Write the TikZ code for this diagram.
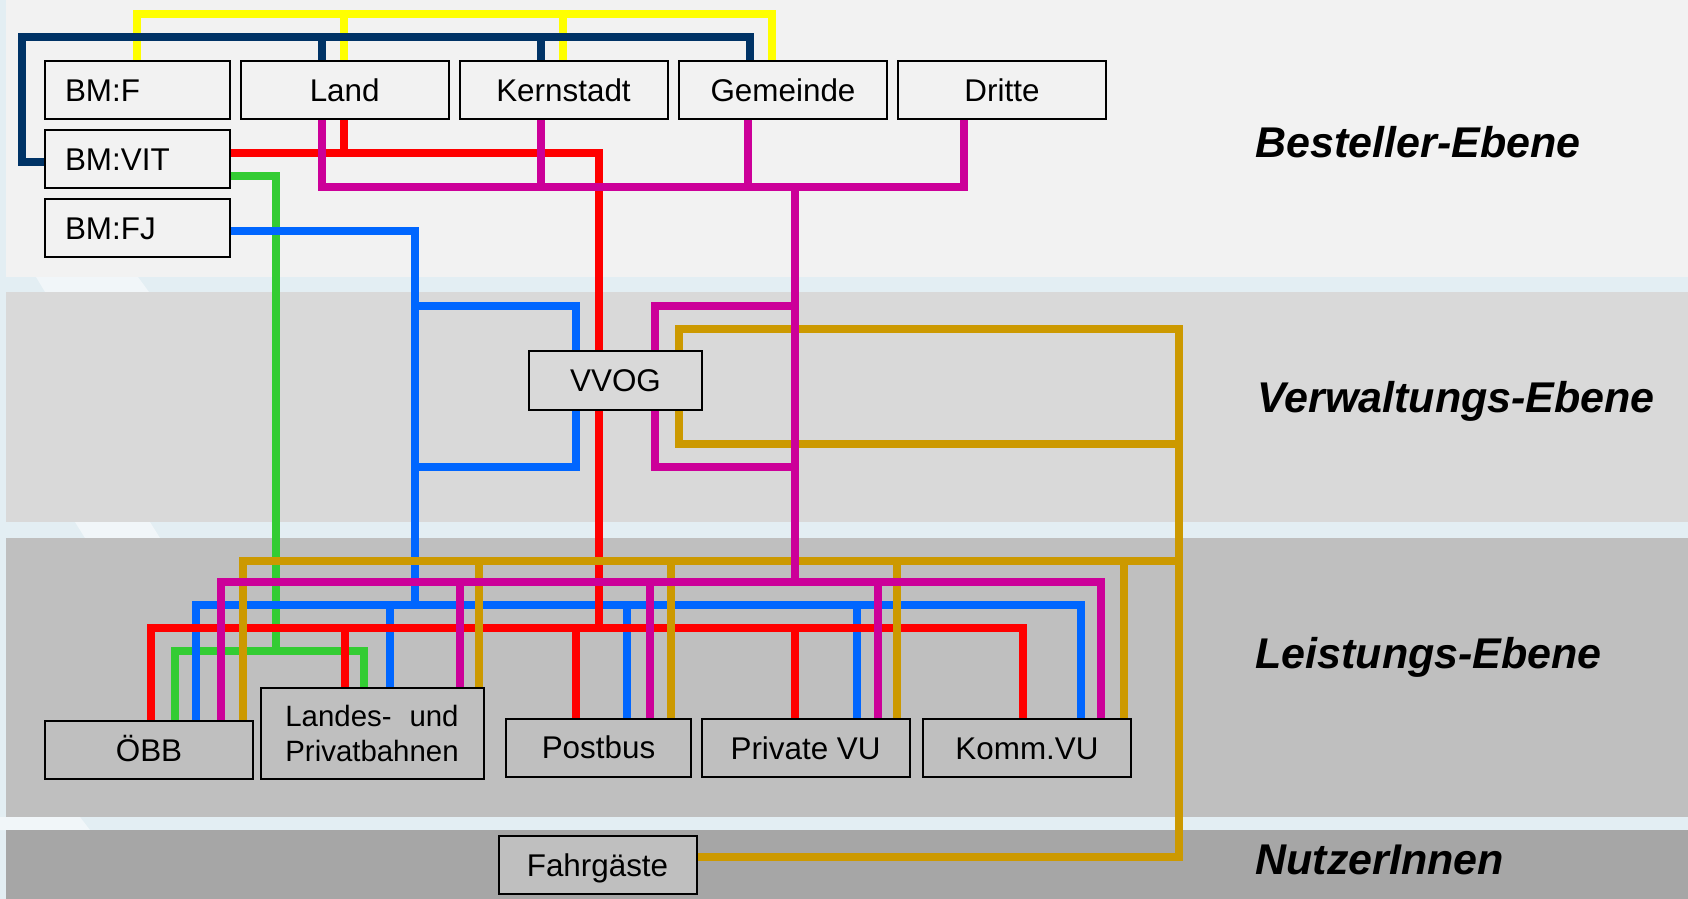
\documentclass[tikz,border=0pt]{standalone}
\usepackage{fontspec}
\setmainfont{Liberation Sans}
\usepackage{calc}
\pgfdeclarelayer{bg}
\pgfdeclarelayer{lines}
\pgfsetlayers{bg,lines,main}
\definecolor{cyel}{HTML}{FFFF00}
\definecolor{cnavy}{HTML}{003366}
\definecolor{cred}{HTML}{FF0000}
\definecolor{cmag}{HTML}{CC0099}
\definecolor{cgrn}{HTML}{33CC33}
\definecolor{cblu}{HTML}{0066FF}
\definecolor{cgold}{HTML}{CC9900}
\definecolor{bandA}{HTML}{F2F2F2}
\definecolor{bandB}{HTML}{D9D9D9}
\definecolor{bandC}{HTML}{BFBFBF}
\definecolor{bandD}{HTML}{A6A6A6}
\definecolor{strip}{HTML}{E3EEF3}
\definecolor{stripl}{HTML}{F1F6F9}
\tikzset{
  wire/.style={line width=4pt, line join=miter},
  boxbase/.style={draw=black, line width=1pt, rectangle, inner sep=0pt,
    font=\fontsize{15.7}{18}\selectfont},
  box/.style={boxbase, text height=11.2pt, text depth=0pt},
  lbox/.style={box, fill=bandA, minimum width=92.5pt, minimum height=29pt,
    text width=72.5pt, align=left},
  tbox/.style={box, fill=bandA, minimum width=104pt, minimum height=29pt},
  bbox/.style={box, fill=bandC, minimum width=104pt, minimum height=29pt},
  lab/.style={anchor=west, inner sep=0pt, text height=15.4pt, text depth=0pt,
    font=\fontsize{21.5}{25}\selectfont\bfseries\itshape}
}
\begin{document}
\begin{tikzpicture}[x=0.5pt,y=-0.5pt]
\useasboundingbox (0,0) rectangle (1688,899);
\begin{pgfonlayer}{bg}
  \fill[strip] (0,0) rectangle (1688,899);
  \fill[stripl] (36,277) -- (138,277) -- (149,292) -- (45,292) -- cycle;
  \fill[stripl] (75,522) -- (150,522) -- (160,538) -- (85,538) -- cycle;
  \fill[stripl] (0,817) -- (80,817) -- (90,830) -- (0,830) -- cycle;
  \fill[bandA] (6,0) rectangle (1688,277);
  \fill[bandB] (6,292) rectangle (1688,522);
  \fill[bandC] (6,538) rectangle (1688,817);
  \fill[bandD] (6,830) rectangle (1688,899);
\end{pgfonlayer}

% Besteller-Ebene
\node[lbox] (bmf) at (137.5,90) {BM:F};
\node[lbox] (bmvit) at (137.5,159) {BM:VIT};
\node[lbox] (bmfj) at (137.5,228) {BM:FJ};
\node[tbox] (land) at (344.7,90) {Land};
\node[tbox] (kern) at (563.5,90) {Kernstadt};
\node[tbox] (gem) at (783,90) {Gemeinde};
\node[tbox] (dritte) at (1002,90) {Dritte};
% Verwaltungs-Ebene
\node[box, fill=bandB, minimum width=86.5pt, minimum height=29.5pt] (vvog) at (615.5,380.5) {VVOG};
% Leistungs-Ebene
\node[bbox] (oebb) at (149,750) {ÖBB};
\node[boxbase, fill=bandC, minimum width=111.5pt, minimum height=45.5pt, align=center,
  font=\fontsize{14.7}{17.75}\selectfont] (lp) at (372,733.6)
  {\makebox[\widthof{Privatbahnen}][s]{Landes- und}\\Privatbahnen};
\node[bbox, minimum width=92.5pt] (post) at (598.5,747.5) {Postbus};
\node[bbox] (priv) at (805.6,748) {Private VU};
\node[bbox] (komm) at (1027,748) {Komm.VU};
% NutzerInnen
\node[bbox, minimum width=99pt] (fahr) at (597.5,865.3) {Fahrgäste};

% level labels
\node[lab] (l1) at (1255,142) {Besteller-Ebene};
\node[lab] (l2) at (1257,397) {Verwaltungs-Ebene};
\node[lab] (l3) at (1255,653) {Leistungs-Ebene};
\node[lab] (l4) at (1255,858.6) {NutzerInnen};

\begin{pgfonlayer}{lines}
% yellow
\draw[wire,cyel] (bmf.north -| 137,0) |- (772,14) -- (gem.north -| 772,0);
\draw[wire,cyel] (344.4,14) -- (land.north -| 344.4,0);
\draw[wire,cyel] (563.3,14) -- (kern.north -| 563.3,0);
% navy
\draw[wire,cnavy] (bmvit.west |- 0,162) -| (22,37) -| (gem.north -| 749.8,0);
\draw[wire,cnavy] (321.5,37) -- (land.north -| 321.5,0);
\draw[wire,cnavy] (540.7,37) -- (kern.north -| 540.7,0);
% green
\draw[wire,cgrn] (bmvit.east |- 0,176) -| (275.5,651.3);
\draw[wire,cgrn] (oebb.north -| 174.5,0) |- (364,651.3) -- (lp.north -| 364,0);
% blue
\draw[wire,cblu] (bmfj.east |- 0,231) -| (415,605.3);
\draw[wire,cblu] (415,305.7) -| (vvog.north -| 576,0);
\draw[wire,cblu] (vvog.south -| 576,0) |- (415,467.3);
\draw[wire,cblu] (oebb.north -| 196.3,0) |- (1080.7,605.3) -- (komm.north -| 1080.7,0);
\draw[wire,cblu] (390.3,605.3) -- (lp.north -| 390.3,0);
\draw[wire,cblu] (627.1,605.3) -- (post.north -| 627.1,0);
\draw[wire,cblu] (856.8,605.3) -- (priv.north -| 856.8,0);
% red
\draw[wire,cred] (bmvit.east |- 0,153) -| (vvog.north -| 598.5,0);
\draw[wire,cred] (land.south -| 344.4,0) -- (344.4,153);
\draw[wire,cred] (vvog.south -| 598.5,0) -- (598.5,628);
\draw[wire,cred] (oebb.north -| 151,0) |- (1022.6,628) -- (komm.north -| 1022.6,0);
\draw[wire,cred] (344.8,628) -- (lp.north -| 344.8,0);
\draw[wire,cred] (575.7,628) -- (post.north -| 575.7,0);
\draw[wire,cred] (795,628) -- (priv.north -| 795,0);
% gold
\draw[wire,cgold] (vvog.north -| 678.6,0) |- (1179,329) -- (1179,856.7) -- (fahr.east |- 0,856.7);
\draw[wire,cgold] (vvog.south -| 678.6,0) |- (1179,443.7);
\draw[wire,cgold] (oebb.north -| 243.4,0) |- (1179,560.5);
\draw[wire,cgold] (479.1,560.5) -- (lp.north -| 479.1,0);
\draw[wire,cgold] (671,560.5) -- (post.north -| 671,0);
\draw[wire,cgold] (897.4,560.5) -- (priv.north -| 897.4,0);
\draw[wire,cgold] (1123.8,560.5) -- (komm.north -| 1123.8,0);
% magenta
\draw[wire,cmag] (land.south -| 321.5,0) |- (963.7,187) -- (dritte.south -| 963.7,0);
\draw[wire,cmag] (kern.south -| 540.7,0) -- (540.7,187);
\draw[wire,cmag] (gem.south -| 747.9,0) -- (747.9,187);
\draw[wire,cmag] (795,187) -- (795,581.7);
\draw[wire,cmag] (vvog.north -| 655,0) |- (795,305.7);
\draw[wire,cmag] (vvog.south -| 655,0) |- (795,467.3);
\draw[wire,cmag] (oebb.north -| 221.2,0) |- (1101.4,581.7) -- (komm.north -| 1101.4,0);
\draw[wire,cmag] (460.4,581.7) -- (lp.north -| 460.4,0);
\draw[wire,cmag] (650.3,581.7) -- (post.north -| 650.3,0);
\draw[wire,cmag] (878,581.7) -- (priv.north -| 878,0);
\end{pgfonlayer}
\end{tikzpicture}
\end{document}
